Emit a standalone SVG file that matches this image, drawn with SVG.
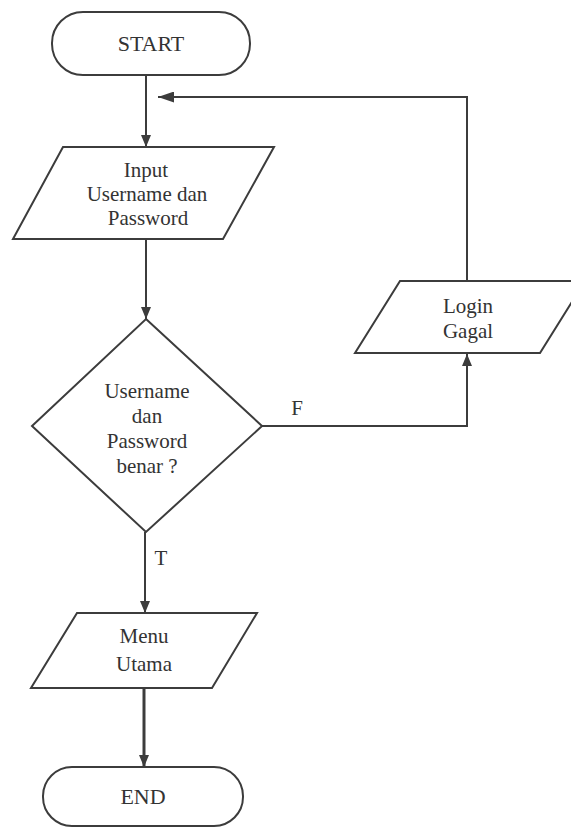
<svg xmlns="http://www.w3.org/2000/svg" width="571" height="827" viewBox="0 0 571 827">
  <style>
    .shape { fill: #ffffff; stroke: #3c3c3c; stroke-width: 2; }
    .edge { fill: none; stroke: #3c3c3c; stroke-width: 2; }
    .label { font-family: 'Liberation Serif', 'DejaVu Serif', 'Times New Roman', serif; font-size: 21px; fill: #333333; text-anchor: middle; }
    .term { font-size: 22px; }
  </style>
  <defs>
    <marker id="arrow" viewBox="0 0 12 10" refX="12" refY="5" markerWidth="12" markerHeight="10" markerUnits="userSpaceOnUse" orient="auto">
      <path d="M0,0 L12,5 L0,10 Z" fill="#3c3c3c"/>
    </marker>
    <marker id="arrowL" viewBox="0 0 16 11" refX="16" refY="5.5" markerWidth="16" markerHeight="11" markerUnits="userSpaceOnUse" orient="auto">
      <path d="M0,0 L16,5.5 L0,11 Z" fill="#3c3c3c"/>
    </marker>
  </defs>

  <rect width="571" height="827" fill="#ffffff"/>

  <g id="connectors">
    <!-- START -> Input -->
    <line class="edge" x1="146" y1="75" x2="146" y2="147" marker-end="url(#arrow)"/>
    <!-- Input -> decision -->
    <line class="edge" x1="146" y1="239" x2="146" y2="319" marker-end="url(#arrow)"/>
    <!-- decision F -> Login Gagal -->
    <polyline class="edge" points="262,426 467,426 467,354" marker-end="url(#arrow)"/>
    <!-- Login Gagal -> back to input -->
    <polyline class="edge" points="467,281 467,97 158,97" marker-end="url(#arrowL)"/>
    <!-- decision T -> Menu Utama -->
    <line class="edge" x1="145" y1="532" x2="145" y2="613" marker-end="url(#arrow)"/>
    <!-- Menu Utama -> END -->
    <line class="edge" x1="144" y1="688" x2="144" y2="767" style="stroke-width:3" marker-end="url(#arrow)"/>
    <text class="label" font-family="Liberation Serif, serif" x="297" y="415">F</text>
    <text class="label" font-family="Liberation Serif, serif" x="161" y="565">T</text>
  </g>

  <g id="start">
    <rect class="shape" x="52" y="12" width="198" height="63" rx="31" ry="31"/>
    <text class="label term" font-family="Liberation Serif, serif" x="151" y="51">START</text>
  </g>

  <g id="input">
    <polygon class="shape" points="63,147 274,147 223,239 13,239"/>
    <text class="label" font-family="Liberation Serif, serif" x="146" y="177">Input</text>
    <text class="label" font-family="Liberation Serif, serif" x="147" y="201">Username dan</text>
    <text class="label" font-family="Liberation Serif, serif" x="148" y="225">Password</text>
  </g>

  <g id="decision">
    <polygon class="shape" points="146,319 262,426 146,532 32,426"/>
    <text class="label" font-family="Liberation Serif, serif" x="147" y="398">Username</text>
    <text class="label" font-family="Liberation Serif, serif" x="147" y="423">dan</text>
    <text class="label" font-family="Liberation Serif, serif" x="147" y="448">Password</text>
    <text class="label" font-family="Liberation Serif, serif" x="147" y="473">benar ?</text>
  </g>

  <g id="login-gagal">
    <polygon class="shape" points="400,281 585,281 540,353 355,353"/>
    <text class="label" font-family="Liberation Serif, serif" x="468" y="313">Login</text>
    <text class="label" font-family="Liberation Serif, serif" x="468" y="338">Gagal</text>
  </g>

  <g id="menu-utama">
    <polygon class="shape" points="77,613 257,613 212,688 31,688"/>
    <text class="label" font-family="Liberation Serif, serif" x="144" y="643">Menu</text>
    <text class="label" font-family="Liberation Serif, serif" x="144" y="671">Utama</text>
  </g>

  <g id="end">
    <rect class="shape" x="43" y="767" width="200" height="59" rx="29" ry="29"/>
    <text class="label term" font-family="Liberation Serif, serif" x="143" y="804">END</text>
  </g>
</svg>
